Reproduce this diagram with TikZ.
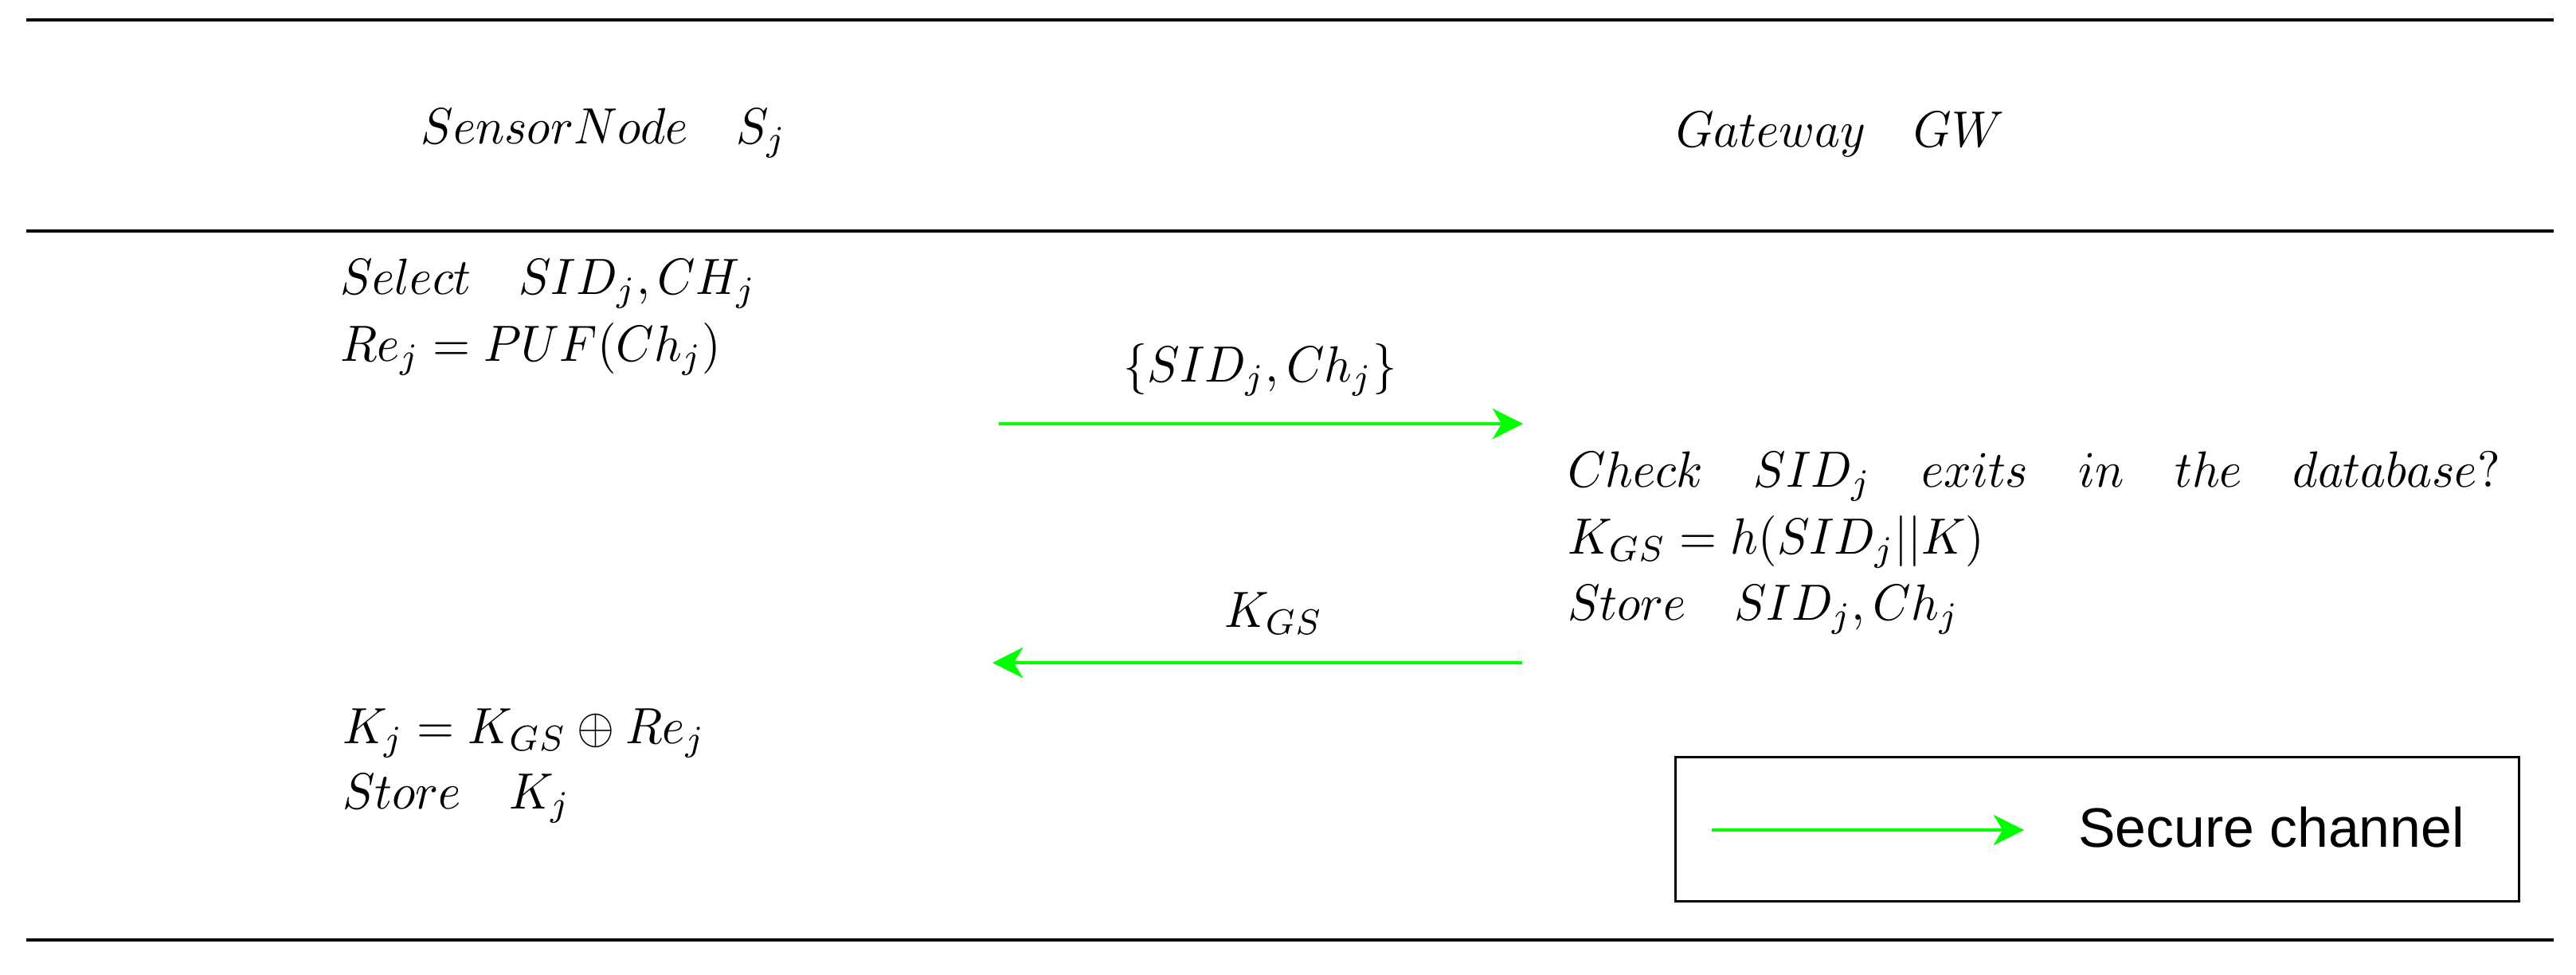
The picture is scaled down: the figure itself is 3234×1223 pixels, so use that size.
\documentclass[tikz,border=0pt]{standalone}
\usepackage{fontspec}
\newfontfamily\legendfont{Liberation Sans}
\usetikzlibrary{arrows.meta}
\definecolor{chgreen}{RGB}{0,255,0}
\newcommand{\sqz}[1]{\scalebox{0.945}[1]{#1}}
\newcommand{\gap}{\hspace{10.5pt}}
\begin{document}
\begin{tikzpicture}[x=0.15625pt,y=-0.15625pt,
  rule/.style={line width=0.65pt},
  msg/.style={draw=chgreen, line width=0.55pt, -{Stealth[length=6pt,width=6pt,inset=1.8pt]}},
  txt/.style={anchor=base west, inner sep=0pt, outer sep=0pt},
  lbl/.style={anchor=base, inner sep=0pt, outer sep=0pt},
  legendbox/.style={draw, line width=0.55pt, rectangle, inner sep=0pt,
    minimum width=165.5pt, minimum height=28.3pt}]
\useasboundingbox (0,0) rectangle (3234,1223);
% rules
\coordinate (r1l) at (33,25);   \coordinate (r1r) at (3206,25);
\coordinate (r2l) at (33,290);  \coordinate (r2r) at (3206,290);
\coordinate (r3l) at (33,1180); \coordinate (r3r) at (3206,1180);
\draw[rule] (r1l) -- (r1r);
\draw[rule] (r2l) -- (r2r);
\draw[rule] (r3l) -- (r3r);
% headers
\node[lbl] (hs) at (758,180) {\sqz{$SensorNode\quad S_j$}};
\node[lbl] (hg) at (2310,184) {\sqz{$Gateway\quad GW$}};
% sensor node side
\node[txt] (s1) at (427,369) {\sqz{$Select\quad SID_j, CH_j$}};
\node[txt] (s2) at (427,453) {\sqz{$Re_j=PUF(Ch_j)$}};
\node[txt] (s3) at (430,933) {\sqz{$K_j=K_{GS}\oplus Re_j$}};
\node[txt] (s4) at (430,1015) {\sqz{$Store\quad K_j$}};
% message 1
\node[lbl] (m1) at (1582,479) {\sqz{$\{SID_j, Ch_j\}$}};
\coordinate (a1s) at (1254,532); \coordinate (a1e) at (1912,532);
\draw[msg] (a1s) -- (a1e);
% gateway side
\node[txt] (g1) at (1968,611) {\sqz{$Check\gap SID_j\gap exits\gap in\gap the\gap database?$}};
\node[txt] (g2) at (1968,695) {\sqz{$K_{GS}=h(SID_j||K)$}};
\node[txt] (g3) at (1968,778) {\sqz{$Store\quad SID_j, Ch_j$}};
% message 2
\node[lbl] (m2) at (1599,787) {\sqz{$K_{GS}$}};
\coordinate (a2s) at (1911,832); \coordinate (a2e) at (1246,832);
\draw[msg] (a2s) -- (a2e);
% legend
\node[legendbox] (leg) at (2633,1041) {};
\coordinate (la) at (2149,1042); \coordinate (lb) at (2541,1042);
\draw[msg] (la) -- (lb);
\node[txt] (lt) at (2609,1063) {\legendfont\fontsize{10.9}{13}\selectfont Secure channel};
\end{tikzpicture}
\end{document}
